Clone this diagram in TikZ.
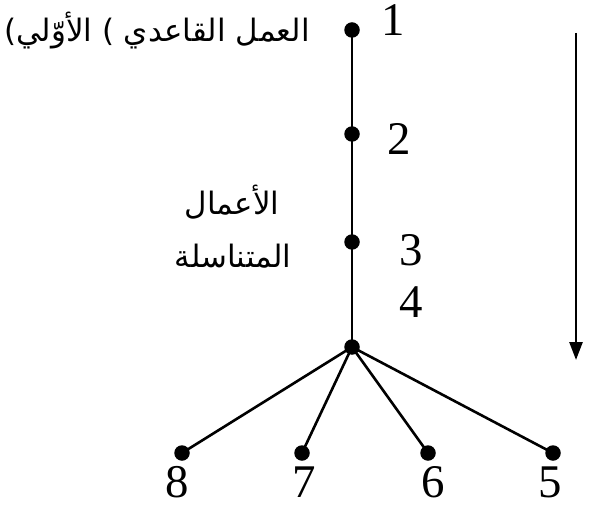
\documentclass[tikz,border=0pt]{standalone}
\usepackage{fontspec}
\setmainfont{Liberation Serif}
\newfontfamily\arabicfont[Script=Arabic]{DejaVu Sans}
\TeXXeTstate=1
\usetikzlibrary{arrows.meta}
\begin{document}
\begin{tikzpicture}[x=1bp,y=-1bp,
  dot/.style={circle,fill=black,inner sep=0pt,minimum size=15.5bp},
  num/.style={inner sep=0pt,font=\fontsize{47}{50}\selectfont},
  ar/.style={inner sep=0pt,font=\arabicfont\fontsize{31}{36}\selectfont},
  thick line/.style={line width=2.6bp},
  thin line/.style={line width=1.8bp}]
\useasboundingbox (0,0) rectangle (595,508);
% dots
\node[dot] (n1) at (352,30) {};
\node[dot] (n2) at (352,134) {};
\node[dot] (n3) at (352,242) {};
\node[dot] (n4) at (352,347) {};
\node[dot] (n8) at (182,453) {};
\node[dot] (n7) at (302,453) {};
\node[dot] (n6) at (428,453) {};
\node[dot] (n5) at (553,453) {};
% connectors
\draw[thick line] (n1.center) -- (n2.center);
\draw[thick line] (n2.center) -- (n3.center);
\draw[thin line] (n3.center) -- (n4.center);
\draw[thick line] (n4.center) -- (n8.center);
\draw[thick line] (n4.center) -- (n7.center);
\draw[thick line] (n4.center) -- (n6.center);
\draw[thick line] (n4.center) -- (n5.center);
% numbers
\node[num] (l1) at (393,20) {1};
\node[num] (l2) at (399,139) {2};
\node[num] (l3) at (411,250) {3};
\node[num] (l4) at (411,302) {4};
\node[num] (l5) at (550,482) {5};
\node[num] (l6) at (433,482) {6};
\node[num] (l7) at (304,482) {7};
\node[num] (l8) at (177,482) {8};
% arabic labels
\node[ar,anchor=east] (t1) at (310,31) {\beginR العمل القاعدي ) الأوّلي)\endR};
\node[ar] (t2) at (232,202) {\beginR الأعمال\endR};
\node[ar] (t3) at (233,256) {\beginR المتناسلة\endR};
% arrow
\coordinate (a1) at (576,33);
\coordinate (a2) at (576,360);
\draw[thick line,-{Triangle[length=18bp,width=13bp]}] (a1) -- (a2);
\end{tikzpicture}
\end{document}
